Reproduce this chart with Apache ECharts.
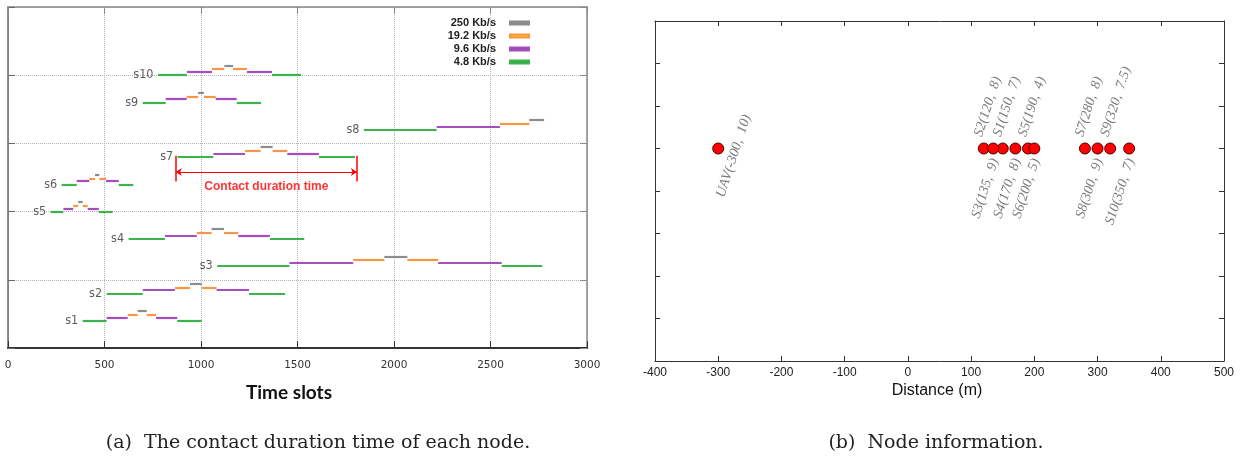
<!DOCTYPE html>
<html><head><meta charset="utf-8">
<script src="https://cdn.jsdelivr.net/npm/echarts@6/dist/echarts.min.js"></script>
<style>html,body{margin:0;padding:0;background:#fff}#c{width:1242px;height:459px}</style>
</head><body><div id="c"></div>
<script>
// ---------- (a) contact duration data ----------
const rateNames = ['250 Kb/s', '19.2 Kb/s', '9.6 Kb/s', '4.8 Kb/s'];
const rateColors = ['#8c8c8c', '#f79646', '#a64dbf', '#3cb44b'];
const legendColors = ['#8c8c8c', '#ffc000', '#9b42b5', '#2eaa48'];
const rateStep = [0.145, 0.088, 0.048, 0];           // level of each rate above node baseline
const segmentRate = [3, 2, 1, 0, 1, 2, 3];            // 4.8,9.6,19.2,250,19.2,9.6,4.8
const nodeNames = ['s1', 's2', 's3', 's4', 's5', 's6', 's7', 's8', 's9', 's10'];
const nodeLevels = [0.4, 0.8, 1.2, 1.6, 2.0, 2.4, 2.8, 3.2, 3.6, 4.0];
const nodeBreaks = [
  [387, 511, 620, 672, 719, 767, 877, 1004],
  [511, 698, 865, 943, 1004, 1081, 1249, 1435],
  [1084, 1458, 1789, 1950, 2069, 2229, 2558, 2768],
  [625, 813, 978, 1055, 1119, 1193, 1357, 1535],
  [221, 287, 338, 364, 387, 413, 471, 542],
  [278, 356, 421, 451, 473, 508, 574, 649],
  [879, 1064, 1228, 1309, 1371, 1447, 1611, 1798],
  [1844, 2221, 2549, 2701, 2778],
  [698, 817, 926, 985, 1015, 1076, 1185, 1311],
  [777, 927, 1057, 1121, 1166, 1238, 1368, 1518]
];
const contactSpan = [869, 1808];
const contactMarkLevels = [2.82, 2.44];
const contactArrowLevel = 2.58;
const contactTextLevel = 2.37;
const contactText = 'Contact duration time';

// ---------- (b) node information data ----------
const infoNames = ['UAV', 'S1', 'S2', 'S3', 'S4', 'S5', 'S6', 'S7', 'S8', 'S9', 'S10'];
const infoDist = [-300, 150, 120, 135, 170, 190, 200, 280, 300, 320, 350];
const infoSecond = ['10', '7', '8', '9', '8', '4', '5', '8', '9', '7.5', '7'];
const infoRow = 5;
const infoSide = ['side', 'up', 'up', 'down', 'down', 'up', 'down', 'up', 'down', 'up', 'down'];

// ---------- build ----------
const rateSeriesData = rateNames.map(() => []);
nodeBreaks.forEach((b, i) => {
  for (let k = 0; k < b.length - 1; k++) {
    const r = segmentRate[k];
    const y = nodeLevels[i] + rateStep[r];
    rateSeriesData[r].push({ coords: [[b[k], y], [b[k + 1], y]] });
  }
});
const rateSeries = rateNames.map((n, r) => ({
  name: n, type: 'lines', coordinateSystem: 'cartesian2d', xAxisIndex: 0, yAxisIndex: 0,
  color: rateColors[r], silent: true, z: 3,
  lineStyle: { color: rateColors[r], width: 2.2, opacity: 1 },
  data: rateSeriesData[r]
}));

const half = 5.5;
const labelPlace = {
  up:   { dx: -5, dy: -12, align: 'left' },
  down: { dx: 2, dy: 11, align: 'right' },
  side: { dx: 16, dy: 8, align: 'center' }
};
const infoData = infoNames.map((n, i) => {
  const p = labelPlace[infoSide[i]];
  return {
    value: [infoDist[i], infoRow],
    label: {
      show: true, formatter: n + '(' + infoDist[i] + ',  ' + infoSecond[i] + ')',
      position: [half + p.dx, half + p.dy], align: p.align, verticalAlign: 'middle',
      rotate: 72, color: '#7a7a7a', fontFamily: 'Liberation Serif', fontStyle: 'italic', fontSize: 14
    }
  };
});

const frameAxis = (grid, pos, min, max, interval, len, color, width) => ({
  gridIndex: grid, type: 'value', position: pos, min, max, interval,
  axisLine: { show: true, onZero: false, lineStyle: { color, width } },
  axisTick: { show: true, inside: true, length: len, lineStyle: { color, width: 1 } },
  axisLabel: { show: false }, splitLine: { show: false }
});

const plain = v => String(v);
const xA0 = frameAxis(0, 'bottom', 0, 3000, 500, 7, '#333', 2);
xA0.axisLabel = { show: true, formatter: plain, color: '#333', fontSize: 10.5, fontFamily: 'DejaVu Sans', margin: 12, showMinLabel: true, showMaxLabel: true };
xA0.splitLine = { show: true, lineStyle: { type: 'dotted', color: '#b5b5b5', width: 1 } };
const xA1 = frameAxis(0, 'top', 0, 3000, 500, 7, '#888', 1.5);
const yA0 = frameAxis(0, 'left', 0, 5, 1, 7, '#666', 1.5);
yA0.splitLine = { show: true, lineStyle: { type: 'dotted', color: '#b5b5b5', width: 1 } };
const yA1 = frameAxis(0, 'right', 0, 5, 1, 7, '#888', 1.5);

const xA2 = frameAxis(1, 'bottom', -400, 500, 100, 5, '#333', 1);
xA2.axisLabel = { show: true, formatter: plain, color: '#222', fontSize: 12, fontFamily: 'Liberation Sans', margin: 6, showMinLabel: true, showMaxLabel: true };
const xA3 = frameAxis(1, 'top', -400, 500, 100, 5, '#333', 1);
const yA2 = frameAxis(1, 'left', 0, 8, 1, 5, '#333', 1);
const yA3 = frameAxis(1, 'right', 0, 8, 1, 5, '#333', 1);

const option = {
  animation: false,
  backgroundColor: '#fff',
  grid: [
    { left: 8, top: 7, width: 579, height: 341, outerBoundsMode: 'none' },
    { left: 655, top: 21, width: 569, height: 340, outerBoundsMode: 'none' }
  ],
  xAxis: [xA0, xA1, xA2, xA3],
  yAxis: [yA0, yA1, yA2, yA3],
  legend: {
    orient: 'vertical', right: 712, top: 16.5, padding: 0, itemGap: 0,
    align: 'right', icon: 'rect', itemWidth: 19, itemHeight: 3,
    selectedMode: false,
    textStyle: { fontFamily: 'Liberation Sans', fontWeight: 'bold', fontSize: 11, color: '#222', lineHeight: 13, padding: [0, 9, 0, 0] },
    data: rateNames.map((n, r) => ({ name: n, itemStyle: { color: legendColors[r] }, lineStyle: { color: legendColors[r] } }))
  },
  series: [
    ...rateSeries,
    {
      name: 'labels', type: 'scatter', xAxisIndex: 0, yAxisIndex: 0, symbolSize: 1, silent: true,
      itemStyle: { color: 'rgba(0,0,0,0)' },
      label: { show: true, position: 'left', distance: 4, formatter: p => p.name, color: '#333', fontSize: 12.5, fontFamily: 'DejaVu Sans Condensed, DejaVu Sans' },
      data: nodeNames.map((n, i) => ({ name: n, value: [nodeBreaks[i][0], nodeLevels[i]] }))
    },
    {
      name: 'contactMarks', type: 'lines', coordinateSystem: 'cartesian2d', xAxisIndex: 0, yAxisIndex: 0, silent: true,
      lineStyle: { color: '#ff0000', width: 1.5, opacity: 1 },
      data: contactSpan.map(x => ({ coords: [[x, contactMarkLevels[0]], [x, contactMarkLevels[1]]] }))
    },
    {
      name: 'contactArrow', type: 'lines', coordinateSystem: 'cartesian2d', xAxisIndex: 0, yAxisIndex: 0, silent: true,
      symbol: ['arrow', 'arrow'], symbolSize: 6,
      lineStyle: { color: '#ff0000', width: 1, opacity: 1 },
      data: [{ coords: [[contactSpan[0], contactArrowLevel], [contactSpan[1], contactArrowLevel]] }]
    },
    {
      name: 'contactText', type: 'scatter', xAxisIndex: 0, yAxisIndex: 0, symbolSize: 1, silent: true,
      itemStyle: { color: 'rgba(0,0,0,0)' },
      label: { show: true, position: 'inside', formatter: contactText, color: '#ff0000', fontWeight: 'bold', fontSize: 12, fontFamily: 'Liberation Sans' },
      data: [[(contactSpan[0] + contactSpan[1]) / 2, contactTextLevel]]
    },
    {
      name: 'nodes', type: 'scatter', xAxisIndex: 2, yAxisIndex: 2, symbolSize: 11, silent: true,
      itemStyle: { color: '#ff0000', borderColor: '#4a0000', borderWidth: 1, opacity: 1 },
      data: infoData
    }
  ],
  graphic: [
    { type: 'text', x: 289, y: 393, style: { text: 'Time slots', align: 'center', verticalAlign: 'middle', fontFamily: 'Lato', fontWeight: 'bold', fontSize: 19, fill: '#111' } },
    { type: 'text', x: 937, y: 391, style: { text: 'Distance (m)', align: 'center', verticalAlign: 'middle', fontFamily: 'Liberation Sans', fontSize: 16, fill: '#111' } },
    { type: 'text', x: 318, y: 443, style: { text: '(a)  The contact duration time of each node.', align: 'center', verticalAlign: 'middle', fontFamily: 'DejaVu Serif', fontSize: 19, fill: '#222' } },
    { type: 'text', x: 936, y: 443, style: { text: '(b)  Node information.', align: 'center', verticalAlign: 'middle', fontFamily: 'DejaVu Serif', fontSize: 19, fill: '#222' } }
  ]
};
const chart = echarts.init(document.getElementById('c'), null, { renderer: 'canvas' });
chart.setOption(option);
</script></body></html>
